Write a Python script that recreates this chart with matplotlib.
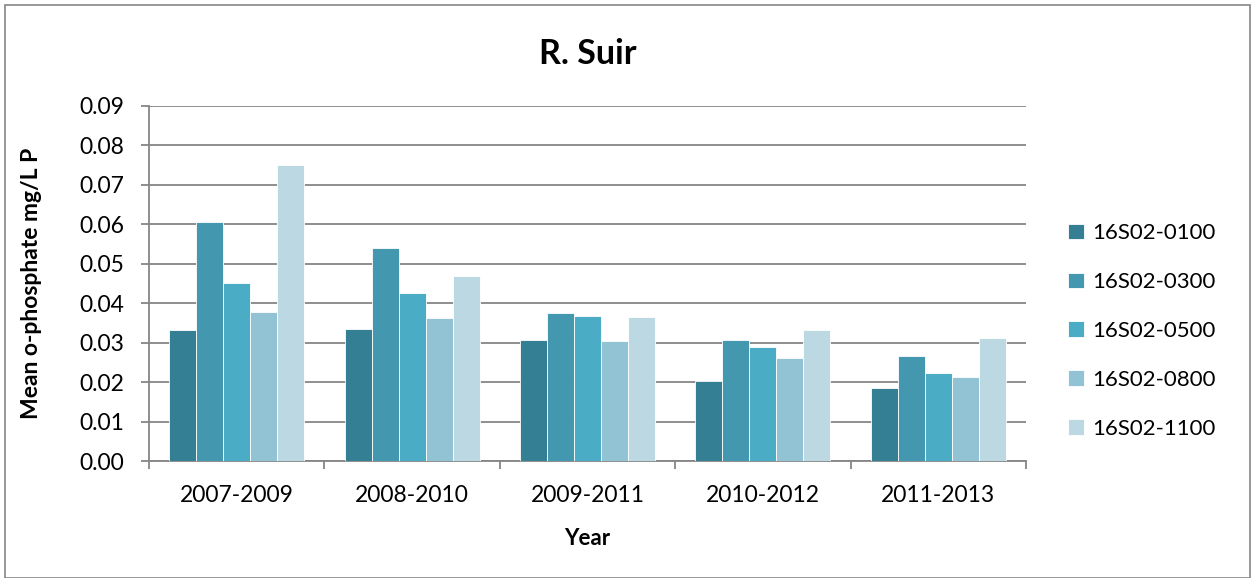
import numpy as np
import matplotlib.pyplot as plt
from matplotlib.patches import Rectangle

plt.rcParams['font.family'] = ['Lato', 'DejaVu Sans']

years = ['2007-2009', '2008-2010', '2009-2011', '2010-2012', '2011-2013']
sites = ['16S02-0100', '16S02-0300', '16S02-0500', '16S02-0800', '16S02-1100']
s0100 = [0.0331, 0.0334, 0.0307, 0.0204, 0.0185]
s0300 = [0.0606, 0.0540, 0.0374, 0.0307, 0.0267]
s0500 = [0.0451, 0.0425, 0.0367, 0.0288, 0.0223]
s0800 = [0.0379, 0.0363, 0.0305, 0.0262, 0.0213]
s1100 = [0.0751, 0.0470, 0.0366, 0.0333, 0.0311]
colors = ['#357f94', '#4398b0', '#4bacc6', '#92c3d4', '#bcd8e3']

series = [s0100, s0300, s0500, s0800, s1100]

fig = plt.figure(figsize=(12.55, 5.78), dpi=100)
ax = fig.add_axes([149/1255, 1-461/578, 877/1255, 355/578])

x = np.arange(len(years))
w = 0.154
for i, vals in enumerate(series):
    ax.bar(x + (i-2)*w, vals, w, color=colors[i], edgecolor='white', linewidth=0.6,
           label=sites[i], zorder=3)

ax.set_xlim(-0.5, 4.5)
ax.set_ylim(0, 0.09)
ax.set_yticks(np.arange(0, 0.0901, 0.01))
ax.set_yticklabels(['%.2f' % v for v in np.arange(0, 0.0901, 0.01)])
ax.yaxis.grid(True, color='#868686', linewidth=1.3, zorder=0)
ax.set_xticks(x)
ax.set_xticklabels(years)
ax.set_xticks(np.arange(-0.5, 5, 1), minor=True)
ax.tick_params(axis='x', which='major', length=0, labelsize=16.5, pad=17)
ax.tick_params(axis='x', which='minor', length=6, color='#868686', width=1.3)
ax.tick_params(axis='y', length=6, color='#868686', width=1.3, labelsize=16.5, pad=12)
for s in ['top', 'right']:
    ax.spines[s].set_visible(False)
for s in ['left', 'bottom']:
    ax.spines[s].set_color('#868686')
    ax.spines[s].set_linewidth(1.3)

ax.set_title('R. Suir', fontsize=24.5, fontweight='bold', pad=30)
ax.set_xlabel('Year', fontsize=16, fontweight='bold')
ax.xaxis.set_label_coords(0.5, -0.19)
ax.set_ylabel('Mean o-phosphate mg/L P', fontsize=16.5, fontweight='bold')
ax.yaxis.set_label_coords(-0.122, 0.5)

ax.legend(loc='center left', bbox_to_anchor=(1068/1255, 1-331/578),
          bbox_transform=fig.transFigure, frameon=False, fontsize=16,
          borderpad=0, borderaxespad=0,
          handlelength=0.7, handleheight=0.7, labelspacing=1.3, handletextpad=0.4)

fig.patches.append(Rectangle((5/1255, 0), 1245/1255, 573/578, transform=fig.transFigure,
                             fill=False, edgecolor='#868686', linewidth=1.2))

fig.savefig('out.png', dpi=100)
